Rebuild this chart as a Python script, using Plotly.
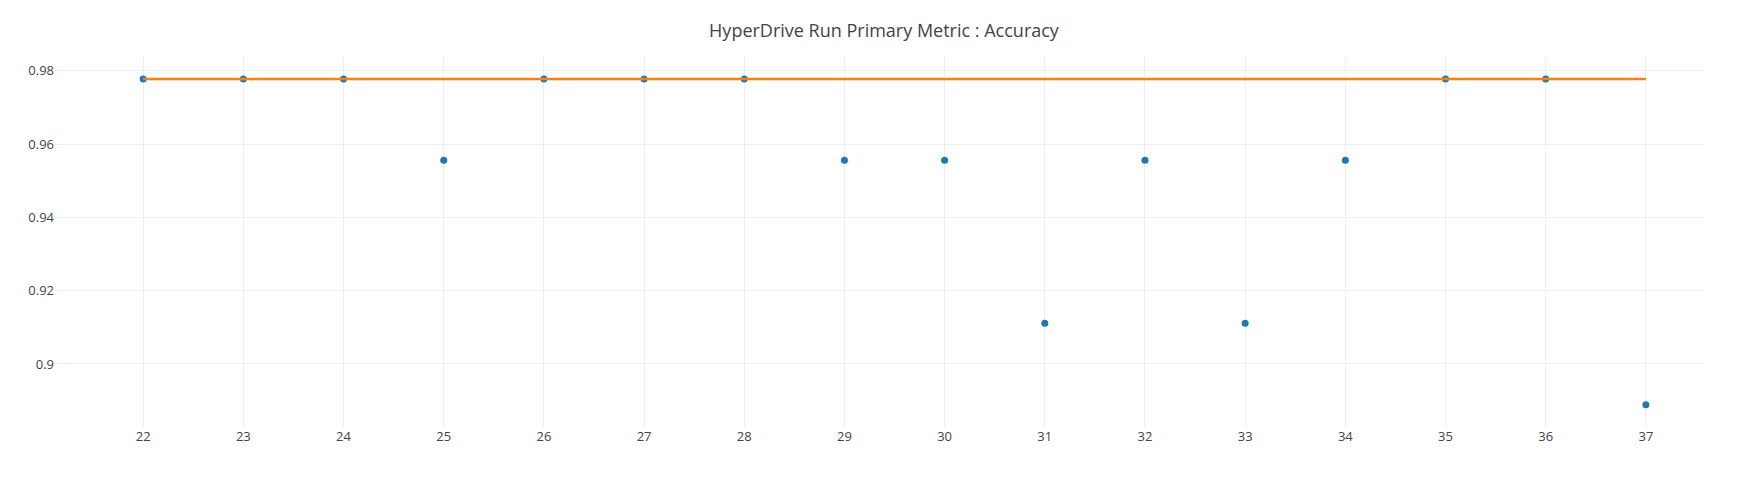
import plotly.graph_objects as go

run_numbers = list(range(22, 38))
accuracy = [0.9778, 0.9778, 0.9778, 0.9556, 0.9778, 0.9778, 0.9778, 0.9556,
            0.9556, 0.9111, 0.9556, 0.9111, 0.9556, 0.9778, 0.9778, 0.8889]
best_so_far = [0.9778] * len(run_numbers)

fig = go.Figure()
fig.add_trace(go.Scatter(x=run_numbers, y=accuracy, mode="markers",
                         marker=dict(color="#1f77b4", size=7), name="Accuracy"))
fig.add_trace(go.Scatter(x=run_numbers, y=best_so_far, mode="lines",
                         line=dict(color="#ff7f0e", width=2.5), name="Best"))
fig.update_layout(
    title=dict(text="HyperDrive Run Primary Metric : Accuracy", x=0.5, y=0.954,
               yanchor="middle", font=dict(size=18, color="#444")),
    width=1752, height=500,
    margin=dict(l=47, r=56, t=49, b=81),
    paper_bgcolor="white", plot_bgcolor="white",
    showlegend=False,
    font=dict(family="Open Sans", color="#444", size=13),
    xaxis=dict(range=[21.12, 37.58], dtick=1, gridcolor="#eee", zeroline=False,
               showline=False),
    yaxis=dict(range=[0.8828, 0.9838], dtick=0.02, gridcolor="#eee", zeroline=False,
               showline=False),
)
fig.write_html("out.html")
